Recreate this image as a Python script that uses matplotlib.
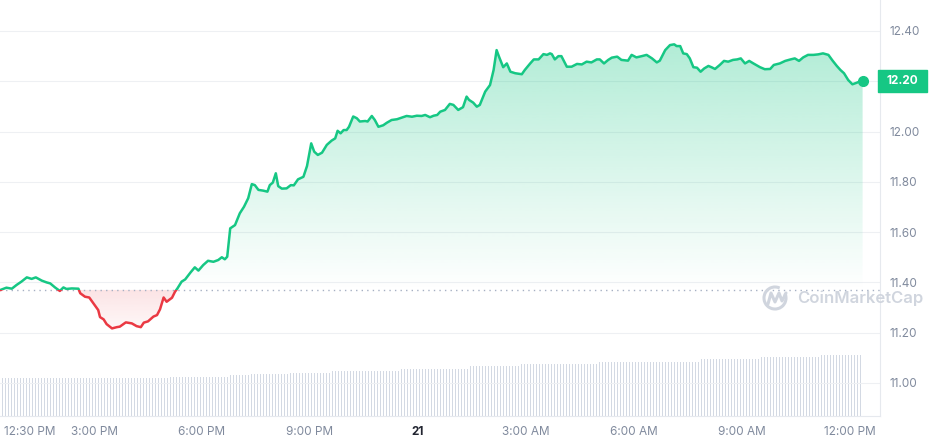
import numpy as np
import matplotlib
matplotlib.use("Agg")
import matplotlib.pyplot as plt
from matplotlib.colors import to_rgb
from matplotlib.patches import Rectangle, Arc
from matplotlib.path import Path
from matplotlib.transforms import blended_transform_factory

plt.rcParams['font.family'] = ['Inter', 'DejaVu Sans']

# minutes after 12:00 PM on the 20th, and price in USD
minutes = [
    23, 34, 43, 51, 59, 68, 76, 83, 93, 101, 107, 115, 123, 129, 134, 143,
    154, 157, 165, 172, 179, 187, 190, 196, 201, 210, 218, 223, 233, 243,
    251, 258, 263, 270, 279, 285, 290, 296, 301, 310, 315, 319, 326, 332,
    341, 348, 354, 362, 370, 379, 387, 393, 398, 402, 407, 415, 423, 430,
    437, 443, 448, 454, 462, 469, 473, 478, 483, 487, 493, 501, 508, 513,
    520, 529, 535, 539, 542, 547, 553, 560, 568, 576, 582, 586, 591, 596,
    601, 605, 612, 618, 623, 632, 636, 643, 648, 654, 662, 668, 676, 685,
    695, 701, 710, 718, 726, 732, 740, 746, 752, 757, 765, 773, 779, 787,
    795, 801, 805, 812, 818, 823, 832, 840, 846, 851, 855, 862, 868, 874,
    882, 893, 898, 907, 913, 921, 929, 935, 940, 943, 948, 954, 959, 968,
    976, 985, 993, 1001, 1009, 1018, 1023, 1030, 1037, 1043, 1052, 1059,
    1070, 1076, 1084, 1093, 1101, 1110, 1118, 1123, 1132, 1140, 1147, 1151,
    1157, 1162, 1168, 1173, 1179, 1185, 1191, 1197, 1204, 1209, 1215, 1223,
    1230, 1237, 1245, 1252, 1258, 1265, 1272, 1279, 1290, 1298, 1307, 1313,
    1323, 1332, 1341, 1348, 1355, 1362, 1370, 1379, 1387, 1395, 1404, 1411,
    1418, 1424, 1430, 1437, 1444, 1451, 1455, 1461,
]
price = [
    11.369, 11.379, 11.375, 11.390, 11.403, 11.420, 11.414, 11.420, 11.407,
    11.400, 11.396, 11.380, 11.366, 11.380, 11.374, 11.376, 11.375, 11.357,
    11.343, 11.340, 11.317, 11.290, 11.262, 11.253, 11.234, 11.217, 11.222,
    11.224, 11.241, 11.237, 11.226, 11.222, 11.240, 11.245, 11.264, 11.270,
    11.293, 11.340, 11.323, 11.339, 11.363, 11.376, 11.403, 11.412, 11.440,
    11.460, 11.447, 11.469, 11.486, 11.482, 11.489, 11.500, 11.492, 11.502,
    11.615, 11.628, 11.675, 11.701, 11.735, 11.791, 11.787, 11.768, 11.765,
    11.761, 11.787, 11.797, 11.834, 11.783, 11.773, 11.774, 11.787, 11.786,
    11.810, 11.820, 11.863, 11.914, 11.953, 11.920, 11.907, 11.916, 11.947,
    11.964, 11.973, 12.003, 11.993, 12.006, 12.006, 12.019, 12.060, 12.053,
    12.040, 12.042, 12.040, 12.062, 12.046, 12.019, 12.025, 12.035, 12.046,
    12.049, 12.057, 12.062, 12.059, 12.063, 12.062, 12.066, 12.057, 12.063,
    12.066, 12.079, 12.086, 12.110, 12.106, 12.086, 12.097, 12.139, 12.126,
    12.115, 12.099, 12.106, 12.159, 12.185, 12.245, 12.324, 12.298, 12.256,
    12.271, 12.238, 12.232, 12.228, 12.245, 12.271, 12.287, 12.287, 12.308,
    12.305, 12.311, 12.308, 12.287, 12.300, 12.300, 12.258, 12.258, 12.269,
    12.267, 12.278, 12.275, 12.287, 12.287, 12.271, 12.285, 12.294, 12.298,
    12.285, 12.282, 12.305, 12.295, 12.300, 12.305, 12.291, 12.275, 12.282,
    12.324, 12.344, 12.347, 12.340, 12.340, 12.311, 12.308, 12.291, 12.256,
    12.254, 12.238, 12.251, 12.261, 12.256, 12.249, 12.265, 12.281, 12.278,
    12.285, 12.287, 12.291, 12.271, 12.281, 12.271, 12.256, 12.248, 12.249,
    12.265, 12.271, 12.281, 12.287, 12.291, 12.281, 12.295, 12.305, 12.305,
    12.307, 12.311, 12.305, 12.282, 12.261, 12.245, 12.232, 12.205, 12.188,
    12.194, 12.198, 12.202,
]
open_price = 11.37

# volume bars, one every 5 minutes, stored as runs of equal height (M USD)
vol_start = 23
vol_step = 5
vol_levels = [152, 156, 164, 168, 172, 180, 188, 200, 208, 216, 228, 236, 244]
vol_counts = [57, 20, 7, 13, 14, 23, 23, 17, 26, 34, 20, 20, 14]

tick_minutes = [30, 180, 360, 540, 720, 900, 1080, 1260, 1440]
tick_labels = ["12:30 PM", "3:00 PM", "6:00 PM", "9:00 PM", "21",
               "3:00 AM", "6:00 AM", "9:00 AM", "12:00 PM"]
price_ticks = [11.0, 11.2, 11.4, 11.6, 11.8, 12.0, 12.2, 12.4]

GREEN = '#16c784'
RED = '#ea3943'
GREY = '#808a9d'
LINE = '#eef0f3'

t = np.array(minutes, dtype=float)
p = np.array(price)
vol = np.repeat(vol_levels, vol_counts)
vol_t = vol_start + vol_step * np.arange(len(vol))
last = round(p[-1], 2)

fig = plt.figure(figsize=(9.31, 4.45), dpi=100)
rect = [0, 29 / 445, 880 / 931, 416 / 445]
vax = fig.add_axes(rect, zorder=0)
ax = fig.add_axes(rect, zorder=1, sharex=vax)
ax.patch.set_visible(False)

vax.bar(vol_t, vol, width=1.5, color='#d3d9e3', linewidth=0)
vax.set_ylim(0, 1664)
vax.axis('off')

# gradient fills above / below the opening price
up = ax.fill_between(t, p, open_price, where=p >= open_price,
                     interpolate=True, color='none', lw=0)
down = ax.fill_between(t, p, open_price, where=p <= open_price,
                       interpolate=True, color='none', lw=0)

g = np.zeros((256, 1, 4))
g[..., :3] = to_rgb(GREEN)
g[:, 0, 3] = np.linspace(0.0, 0.33, 256)
im = ax.imshow(g, extent=[t[0], t[-1], open_price, p.max()], origin='lower',
               aspect='auto', zorder=1, interpolation='bilinear')
im.set_clip_path(Path.make_compound_path(*up.get_paths()), transform=ax.transData)

r = np.zeros((256, 1, 4))
r[..., :3] = to_rgb(RED)
r[:, 0, 3] = np.linspace(0.04, 0.14, 256)
im2 = ax.imshow(r, extent=[t[0], t[-1], p.min(), open_price], origin='lower',
                aspect='auto', zorder=1, interpolation='bilinear')
im2.set_clip_path(Path.make_compound_path(*down.get_paths()), transform=ax.transData)

ax.axhline(open_price, color='#a6b0c3', lw=1, ls=(0, (1, 3)), zorder=2)

ln_up, = ax.plot(t, p, color=GREEN, lw=1.8, zorder=3, solid_joinstyle='round')
ln_up.set_clip_path(Rectangle((0, open_price), 3000, 10, transform=ax.transData))
ln_dn, = ax.plot(t, p, color=RED, lw=1.8, zorder=3, solid_joinstyle='round')
ln_dn.set_clip_path(Rectangle((0, open_price - 10), 3000, 10, transform=ax.transData))
ax.plot(t[-1], p[-1], 'o', ms=7, color=GREEN, zorder=4)

ax.set_xlim(23.3, 1490)
ax.set_ylim(10.8686, 12.5233)

# the tick under the last-price tag is hidden by the tag itself
ax.yaxis.tick_right()
ax.set_yticks(price_ticks, ["" if abs(v - last) < 0.05 else f"{v:.2f}"
                            for v in price_ticks])
ax.tick_params(axis='y', length=0, pad=6.5, labelcolor=GREY, labelsize=8.5)
ax.set_xticks(tick_minutes, tick_labels)
ax.tick_params(axis='x', length=0, pad=7, labelcolor=GREY, labelsize=8.5)
xl = ax.get_xticklabels()
xl[0].set_ha('left')
xl[4].set_color('#222531')
xl[4].set_fontweight('bold')

ax.grid(axis='y', color=LINE, lw=0.8)
ax.set_axisbelow(True)
for s in ['top', 'left']:
    ax.spines[s].set_visible(False)
for s in ['right', 'bottom']:
    ax.spines[s].set_color('#e6e9ee')
    ax.spines[s].set_linewidth(0.8)

# last price tag
trans = blended_transform_factory(ax.transAxes, ax.transData)
ax.add_patch(Rectangle((878 / 880, p[-1] - 0.0437), 49 / 880, 0.0875,
                       transform=trans, color=GREEN, clip_on=False, zorder=5))
ax.text(902.5 / 880, p[-1], f"{last:.2f}", transform=trans, ha='center',
        va='center', color='white', fontsize=8.5, fontweight='bold',
        clip_on=False, zorder=6)

# watermark
WM = '#d0d5de'
wm = fig.add_axes([0, 0, 1, 1], zorder=3)
wm.set_xlim(0, 931)
wm.set_ylim(445, 0)
wm.axis('off')
wm.add_patch(Arc((775, 298), 22, 22, theta1=-25, theta2=295, color=WM, lw=2.2))
wm.plot([768, 771, 775, 779, 782, 786], [304, 293, 302, 293, 301, 293],
        color=WM, lw=2.2, solid_joinstyle='round', solid_capstyle='round')
wm.text(797, 298, "CoinMarketCap", ha='left', va='center', color=WM,
        fontsize=12, fontweight='semibold')

fig.savefig("out.png", dpi=100)
